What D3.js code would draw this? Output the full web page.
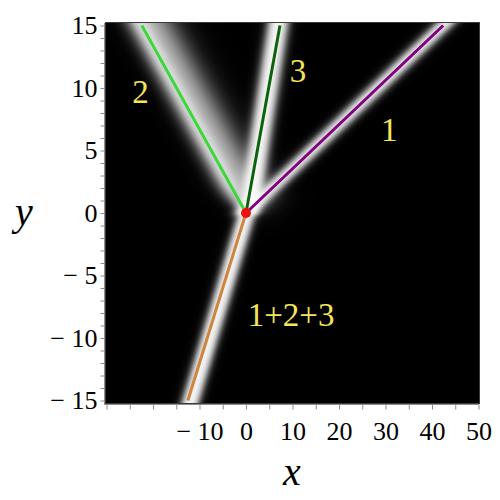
<!DOCTYPE html>
<html>
<head>
<meta charset="utf-8">
<script src="https://cdn.jsdelivr.net/npm/d3@7"></script>
<style>
body{margin:0;background:#fff}
svg{display:block}
.axis text{font-family:"Liberation Serif","Times New Roman",serif;font-size:26px;fill:#000}
.axis path,.axis line{stroke:#8c8c8c}
.lbl{font-family:"Liberation Serif","Times New Roman",serif;font-size:33px;fill:#f4e45a}
.ttl{font-family:"Liberation Serif","Times New Roman",serif;font-size:40px;font-style:italic}
</style>
</head>
<body>
<svg id=chart width=500 height=500></svg>
<script>
// rays leaving the common origin, end point of each drawn line
var rayNames=["1","2","3","1+2+3"]
var rayEndX=[42.4,-22.4,7.3,-12.5]
var rayEndY=[15,15,15,-15]
var origin=[0,0]

// text written inside the plot
var labelText=["2","3","1","1+2+3"]
var labelX=[-22.7,11.2,30.8,9.7]
var labelY=[8.8,10.5,5.8,-9.0]

// axes
var xTicks=d3.range(-30,51,5)
var xTickLabels=[-10,0,10,20,30,40,50]
var yTicks=d3.range(-15,16,1)
var yTickLabels=[-15,-10,-5,0,5,10,15]

var rayColor=["#800080","#3ad83a","#0b640b","#cd853f"]

// shape of the bright band round each ray, in screen pixels
// dx0/dx1: shift of band centre at origin / at ray end, eL/eR: edges, sL/sR: softness,
// a: brightness, f0/fs: where the band starts to show along the ray
var bands=[
  {ray:0,dx0:0,dx1:0,eL:-9,eR:9,sL:3.2,sR:3.2,a:1,f0:-1.5,fs:1.5},
  {ray:1,dx0:0,dx1:0,eL:-12,eR:28,sL:5,sR:9,a:0.8,f0:12,fs:6},
  {ray:1,dx0:0,dx1:0,eL:-7,eR:7,sL:2.5,sR:2.5,a:0.55,f0:-1.5,fs:1.5},
  {ray:2,dx0:2.5,dx1:-2,eL:-10,eR:10,sL:2.6,sR:2.6,a:1,f0:-1.5,fs:1.5},
  {ray:3,dx0:1,dx1:3,eL:-8.5,eR:8.5,sL:2.3,sR:2.3,a:1,f0:-1.5,fs:1.5}
]

var svg=d3.select("#chart")

var x=d3.scaleLinear().domain([-30,50]).range([106.5,478.5])
var y=d3.scaleLinear().domain([-15,15]).range([400.5,25.5])

var pL=106, pR=479, pT=y(15.2), pB=y(-15.2)

var defs=svg.append("defs")
defs.append("clipPath").attr("id","plotClip")
  .append("rect").attr("x",pL).attr("y",pT).attr("width",pR-pL).attr("height",pB-pT)

// density picture
function sig(v){ return 1/(1+Math.exp(-v)) }
var ox=x(origin[0]), oy=y(origin[1])
var cv=document.createElement("canvas")
cv.width=500; cv.height=500
var ctx=cv.getContext("2d")
var img=ctx.createImageData(500,500)
for(var py=Math.floor(pT); py<Math.ceil(pB); py++){
  for(var px=pL; px<pR; px++){
    var cx=px+0.5, cy=py+0.5, dark=1
    bands.forEach(function(b){
      var ex=x(rayEndX[b.ray]), ey=y(rayEndY[b.ray])
      var t=(cy-oy)/(ey-oy)
      var ax=ox+t*(ex-ox)+b.dx0+(b.dx1-b.dx0)*t
      var d=cx-ax
      var v=b.a*sig((d-b.eL)/b.sL)*sig((b.eR-d)/b.sR)
      var along=(cy-oy)*Math.sign(ey-oy)
      v*=sig((along-b.f0)/b.fs)
      dark*=(1-v)
    })
    var g=Math.round(255*(1-dark))
    var k=(py*500+px)*4
    img.data[k]=g; img.data[k+1]=g; img.data[k+2]=g; img.data[k+3]=255
  }
}
ctx.putImageData(img,0,0)

svg.append("image").attr("x",0).attr("y",0).attr("width",500).attr("height",500)
  .attr("href",cv.toDataURL())
  .attr("clip-path","url(#plotClip)")

function rayPoint(i,t){
  return [x(origin[0]+t*(rayEndX[i]-origin[0])),y(origin[1]+t*(rayEndY[i]-origin[1]))]
}
var line=d3.line()

// the four rays
svg.append("g").selectAll("path.ray").data(rayNames).enter().append("path")
  .attr("class","ray")
  .attr("d",function(d,i){return line([rayPoint(i,0),rayPoint(i,1)])})
  .attr("fill","none")
  .attr("stroke",function(d,i){return rayColor[i]})
  .attr("stroke-width",3)

svg.append("circle").attr("cx",ox).attr("cy",oy).attr("r",5).attr("fill","#ee1111")

svg.append("g").selectAll("text").data(labelText).enter().append("text")
  .attr("class","lbl")
  .attr("x",function(d,i){return x(labelX[i])})
  .attr("y",function(d,i){return y(labelY[i])})
  .attr("text-anchor","middle")
  .text(function(d){return d})

// frame
svg.append("rect").attr("x",pL-0.5).attr("y",pT-0.5).attr("width",pR-pL+1).attr("height",pB-pT+1)
  .attr("fill","none").attr("stroke","#3a3a3a")

function fmt(d){ return d<0 ? "\u2212 "+Math.abs(d) : ""+d }

svg.append("g").attr("class","axis").attr("transform","translate(0,404.5)")
  .call(d3.axisBottom(x).tickValues(xTicks).tickSizeInner(5).tickSizeOuter(0).tickPadding(12)
    .tickFormat(function(d){return xTickLabels.indexOf(d)>=0 ? fmt(d) : ""}))

svg.append("g").attr("class","axis").attr("transform","translate(104.5,0)")
  .call(d3.axisLeft(y).tickValues(yTicks).tickSizeInner(4).tickSizeOuter(0).tickPadding(3)
    .tickFormat(function(d){return yTickLabels.indexOf(d)>=0 ? fmt(d) : ""}))

svg.selectAll(".axis .domain").attr("d",function(){
  return d3.select(this.parentNode).attr("transform").indexOf("404.5")>0
    ? "M"+(pL-2)+",0H"+pR : "M0,"+pT+"V"+(pB+2)
})

svg.append("text").attr("class","ttl").attr("x",292).attr("y",485).attr("text-anchor","middle").text("x")
svg.append("text").attr("class","ttl").attr("x",24).attr("y",225).attr("text-anchor","middle").text("y")
</script>
</body>
</html>
